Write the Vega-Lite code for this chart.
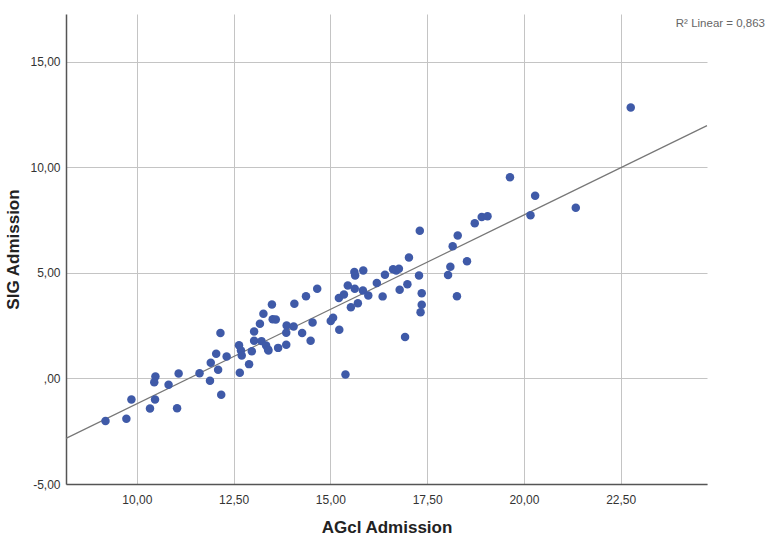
{
  "$schema": "https://vega.github.io/schema/vega-lite/v6.json",
  "autosize": "none",
  "width": 641,
  "height": 470,
  "padding": {"left": 66, "top": 14, "right": 63, "bottom": 54},
  "background": "white",
  "config": {
    "view": {"stroke": null},
    "font": "Liberation Sans"
  },
  "title": {
    "text": "R² Linear = 0,863",
    "anchor": "end",
    "frame": "group",
    "dx": 58,
    "offset": -15,
    "fontSize": 11.5,
    "fontWeight": "normal",
    "color": "#666666",
    "font": "Liberation Sans"
  },
  "datasets": {
    "pts": [
      {"agcl": 9.19, "sig": -2.02}, {"agcl": 9.73, "sig": -1.91}, {"agcl": 9.86, "sig": -1.0},
      {"agcl": 10.34, "sig": -1.42}, {"agcl": 10.47, "sig": -1.0}, {"agcl": 10.48, "sig": 0.09},
      {"agcl": 10.45, "sig": -0.18}, {"agcl": 10.82, "sig": -0.3}, {"agcl": 11.08, "sig": 0.24},
      {"agcl": 11.04, "sig": -1.41}, {"agcl": 11.62, "sig": 0.25}, {"agcl": 11.89, "sig": -0.11},
      {"agcl": 12.1, "sig": 0.41}, {"agcl": 11.91, "sig": 0.74}, {"agcl": 12.05, "sig": 1.17},
      {"agcl": 12.16, "sig": 2.15}, {"agcl": 12.32, "sig": 1.04}, {"agcl": 12.18, "sig": -0.77},
      {"agcl": 12.64, "sig": 1.58}, {"agcl": 12.69, "sig": 1.33}, {"agcl": 12.71, "sig": 1.09},
      {"agcl": 12.66, "sig": 0.27}, {"agcl": 12.9, "sig": 0.68}, {"agcl": 12.97, "sig": 1.29},
      {"agcl": 13.03, "sig": 2.23}, {"agcl": 13.03, "sig": 1.79}, {"agcl": 13.18, "sig": 2.59},
      {"agcl": 13.27, "sig": 3.07}, {"agcl": 13.49, "sig": 3.51}, {"agcl": 13.51, "sig": 2.81},
      {"agcl": 13.59, "sig": 2.8}, {"agcl": 13.22, "sig": 1.77}, {"agcl": 13.34, "sig": 1.56},
      {"agcl": 13.39, "sig": 1.37}, {"agcl": 13.4, "sig": 1.32}, {"agcl": 13.65, "sig": 1.45},
      {"agcl": 13.86, "sig": 2.17}, {"agcl": 13.87, "sig": 2.51}, {"agcl": 13.86, "sig": 1.6},
      {"agcl": 14.05, "sig": 2.46}, {"agcl": 14.07, "sig": 3.54}, {"agcl": 14.27, "sig": 2.15},
      {"agcl": 14.37, "sig": 3.9}, {"agcl": 14.49, "sig": 1.79}, {"agcl": 14.54, "sig": 2.65},
      {"agcl": 14.66, "sig": 4.25}, {"agcl": 15.01, "sig": 2.72}, {"agcl": 15.07, "sig": 2.88},
      {"agcl": 15.23, "sig": 2.31}, {"agcl": 15.22, "sig": 3.81}, {"agcl": 15.35, "sig": 3.98},
      {"agcl": 15.45, "sig": 4.41}, {"agcl": 15.39, "sig": 0.19}, {"agcl": 15.62, "sig": 5.04},
      {"agcl": 15.64, "sig": 4.88}, {"agcl": 15.63, "sig": 4.25}, {"agcl": 15.84, "sig": 4.17},
      {"agcl": 15.85, "sig": 5.12}, {"agcl": 15.98, "sig": 3.93}, {"agcl": 15.71, "sig": 3.57},
      {"agcl": 15.53, "sig": 3.38}, {"agcl": 16.2, "sig": 4.52}, {"agcl": 16.35, "sig": 3.89},
      {"agcl": 16.41, "sig": 4.91}, {"agcl": 16.62, "sig": 5.17}, {"agcl": 16.7, "sig": 5.12},
      {"agcl": 16.77, "sig": 5.2}, {"agcl": 16.79, "sig": 4.2}, {"agcl": 16.99, "sig": 4.47},
      {"agcl": 17.03, "sig": 5.73}, {"agcl": 16.93, "sig": 1.96}, {"agcl": 17.29, "sig": 4.88},
      {"agcl": 17.36, "sig": 4.04}, {"agcl": 17.36, "sig": 3.49}, {"agcl": 17.33, "sig": 3.14},
      {"agcl": 17.31, "sig": 7.0}, {"agcl": 18.04, "sig": 4.9}, {"agcl": 18.1, "sig": 5.29},
      {"agcl": 18.16, "sig": 6.26}, {"agcl": 18.29, "sig": 6.78}, {"agcl": 18.27, "sig": 3.9},
      {"agcl": 18.53, "sig": 5.56}, {"agcl": 18.73, "sig": 7.36}, {"agcl": 18.91, "sig": 7.65},
      {"agcl": 19.06, "sig": 7.69}, {"agcl": 19.64, "sig": 9.54}, {"agcl": 20.17, "sig": 7.73},
      {"agcl": 20.29, "sig": 8.66}, {"agcl": 21.34, "sig": 8.09}, {"agcl": 22.76, "sig": 12.84}
    ],
    "fit": [
      {"x1": 8.17, "y1": -2.84, "x2": 24.73, "y2": 11.98}
    ]
  },
  "layer": [
    {
      "data": {"name": "fit"},
      "mark": {"type": "rule", "color": "#777777", "strokeWidth": 1.2},
      "encoding": {
        "x": {"field": "x1", "type": "quantitative", "scale": {"domain": [8.17, 24.73], "nice": false, "zero": false}},
        "y": {"field": "y1", "type": "quantitative", "scale": {"domain": [-5, 17.27], "nice": false, "zero": false}},
        "x2": {"field": "x2"},
        "y2": {"field": "y2"}
      }
    },
    {
      "data": {"name": "pts"},
      "mark": {"type": "point", "filled": true, "opacity": 1, "color": "#3f5aa8", "size": 72},
      "encoding": {
        "x": {
          "field": "agcl", "type": "quantitative",
          "scale": {"domain": [8.17, 24.73], "nice": false, "zero": false},
          "axis": {
            "title": "AGcl Admission",
            "values": [10, 12.5, 15, 17.5, 20, 22.5],
            "labelExpr": "datum.value == 0 ? ',00' : replace(replace(format(datum.value, '.2f'), '.', ','), '\u2212', '-')",
            "grid": true, "gridColor": "#c4c4c4", "gridWidth": 1,
            "ticks": false,
            "domainColor": "#555555", "domainWidth": 1.5,
            "labelFont": "Liberation Sans", "labelFontSize": 12, "labelColor": "#333333", "labelPadding": 10,
            "titleFont": "Liberation Sans", "titleFontSize": 17, "titleFontWeight": "bold", "titleColor": "#222222", "titlePadding": 14
          }
        },
        "y": {
          "field": "sig", "type": "quantitative",
          "scale": {"domain": [-5, 17.27], "nice": false, "zero": false},
          "axis": {
            "title": "SIG Admission",
            "values": [-5, 0, 5, 10, 15],
            "labelExpr": "datum.value == 0 ? ',00' : replace(replace(format(datum.value, '.2f'), '.', ','), '\u2212', '-')",
            "grid": true, "gridColor": "#c4c4c4", "gridWidth": 1,
            "ticks": false,
            "domainColor": "#555555", "domainWidth": 1.5,
            "labelFont": "Liberation Sans", "labelFontSize": 12, "labelColor": "#333333", "labelPadding": 6,
            "titleFont": "Liberation Sans", "titleFontSize": 17, "titleFontWeight": "bold", "titleColor": "#222222", "titlePadding": 7
          }
        }
      }
    }
  ]
}
